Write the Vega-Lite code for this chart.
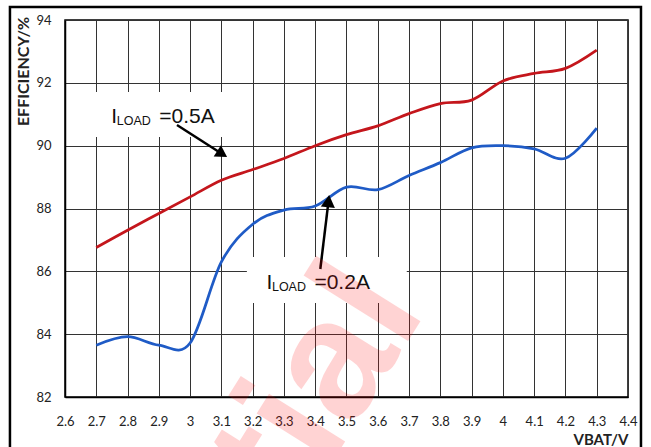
{
  "$schema": "https://vega.github.io/schema/vega-lite/v6.json",
  "width": 563,
  "height": 377,
  "autosize": {"type": "none"},
  "padding": {"left": 65, "top": 20, "right": 23, "bottom": 50},
  "background": "white",
  "config": {
    "view": {"stroke": "#000", "strokeWidth": 1.5},
    "font": "Lato",
    "axisX": {"tickCount": 18, "labelOverlap": false},
    "axisY": {"tickCount": 6, "labelOverlap": false}
  },
  "datasets": {
    "curves": [
      {"v": 2.7, "eff": 86.76, "s": "0.5A"},
      {"v": 2.8, "eff": 87.31, "s": "0.5A"},
      {"v": 2.9, "eff": 87.84, "s": "0.5A"},
      {"v": 3.0, "eff": 88.37, "s": "0.5A"},
      {"v": 3.1, "eff": 88.9, "s": "0.5A"},
      {"v": 3.2, "eff": 89.24, "s": "0.5A"},
      {"v": 3.3, "eff": 89.59, "s": "0.5A"},
      {"v": 3.4, "eff": 90.0, "s": "0.5A"},
      {"v": 3.5, "eff": 90.35, "s": "0.5A"},
      {"v": 3.6, "eff": 90.63, "s": "0.5A"},
      {"v": 3.7, "eff": 91.02, "s": "0.5A"},
      {"v": 3.8, "eff": 91.34, "s": "0.5A"},
      {"v": 3.9, "eff": 91.45, "s": "0.5A"},
      {"v": 4.0, "eff": 92.06, "s": "0.5A"},
      {"v": 4.1, "eff": 92.3, "s": "0.5A"},
      {"v": 4.2, "eff": 92.46, "s": "0.5A"},
      {"v": 4.3, "eff": 93.04, "s": "0.5A"},
      {"v": 2.7, "eff": 83.65, "s": "0.2A"},
      {"v": 2.8, "eff": 83.92, "s": "0.2A"},
      {"v": 2.9, "eff": 83.65, "s": "0.2A"},
      {"v": 3.0, "eff": 83.72, "s": "0.2A"},
      {"v": 3.1, "eff": 86.3, "s": "0.2A"},
      {"v": 3.2, "eff": 87.5, "s": "0.2A"},
      {"v": 3.3, "eff": 87.95, "s": "0.2A"},
      {"v": 3.4, "eff": 88.08, "s": "0.2A"},
      {"v": 3.5, "eff": 88.68, "s": "0.2A"},
      {"v": 3.6, "eff": 88.6, "s": "0.2A"},
      {"v": 3.7, "eff": 89.05, "s": "0.2A"},
      {"v": 3.8, "eff": 89.46, "s": "0.2A"},
      {"v": 3.9, "eff": 89.93, "s": "0.2A"},
      {"v": 4.0, "eff": 90.0, "s": "0.2A"},
      {"v": 4.1, "eff": 89.9, "s": "0.2A"},
      {"v": 4.2, "eff": 89.6, "s": "0.2A"},
      {"v": 4.3, "eff": 90.56, "s": "0.2A"}
    ],
    "labels": [
      {"id": "0.5A", "x": 2.748, "y": 90.709, "val": "=0.5A", "bx": 2.6735, "bx2": 3.175, "by": 91.71, "by2": 90.276},
      {"id": "0.2A", "x": 3.244, "y": 85.43, "val": "=0.2A", "bx": 3.1815, "bx2": 3.6927, "by": 86.457, "by2": 84.993}
    ],
    "arrows": [
      {"id": "0.5A", "x": 2.958, "y": 90.658, "x2": 3.1026, "y2": 89.735},
      {"id": "0.2A", "x": 3.4163, "y": 86.075, "x2": 3.4425, "y2": 88.236}
    ],
    "frame": [
      {"x": 2.424, "x2": 4.4415, "y": 94.414, "y2": 80}
    ],
    "watermark": [
      {"x": 3.7565, "y": 84.74, "word": "Confidential"}
    ]
  },
  "layer": [
    {
      "data": {"name": "curves"},
      "mark": {"type": "line", "interpolate": "cardinal", "strokeWidth": 2.75},
      "encoding": {
        "x": {
          "field": "v", "type": "quantitative",
          "scale": {"domain": [2.6, 4.4], "nice": false, "zero": false},
          "axis": {
            "format": ".1~f",
            "grid": true, "gridColor": "#333", "gridWidth": 1,
            "ticks": false, "tickSize": 0,
            "domainColor": "#000", "domainWidth": 1.5,
            "labelFont": "Lato", "labelFontSize": 13, "labelColor": "#222",
            "labelBaseline": "middle", "labelPadding": 24,
            "labelFlush": false, "labelOverlap": false,
            "title": "VBAT/V", "titleX": 563, "titleY": 42,
            "titleAlign": "right", "titleBaseline": "middle",
            "titleFont": "Lato", "titleFontSize": 15, "titleFontWeight": "bold", "titleColor": "#222"
          }
        },
        "y": {
          "field": "eff", "type": "quantitative",
          "scale": {"domain": [82, 94], "nice": false, "zero": false},
          "axis": {
            "grid": true, "gridColor": "#333", "gridWidth": 1,
            "ticks": false, "tickSize": 0,
            "domainColor": "#000", "domainWidth": 1.5,
            "labelFont": "Lato", "labelFontSize": 13, "labelColor": "#222",
            "labelPadding": 14, "labelOverlap": false,
            "title": "EFFICIENCY/%", "titleX": -42, "titleY": 51,
            "titleAngle": -90, "titleAlign": "center", "titleBaseline": "middle",
            "titleFont": "Lato", "titleFontSize": 16, "titleFontWeight": "bold", "titleColor": "#222"
          }
        },
        "color": {
          "field": "s", "type": "nominal",
          "scale": {"domain": ["0.5A", "0.2A"], "range": ["#C4161C", "#1F5BC6"]},
          "legend": null
        }
      }
    },
    {
      "data": {"name": "labels"},
      "mark": {"type": "rect", "fill": "white", "strokeWidth": 0},
      "encoding": {
        "x": {"field": "bx", "type": "quantitative"},
        "x2": {"field": "bx2"},
        "y": {"field": "by", "type": "quantitative"},
        "y2": {"field": "by2"}
      }
    },
    {
      "data": {"name": "arrows"},
      "mark": {"type": "rule", "color": "#000", "strokeWidth": 2.5},
      "encoding": {
        "x": {"field": "x", "type": "quantitative"},
        "x2": {"field": "x2"},
        "y": {"field": "y", "type": "quantitative"},
        "y2": {"field": "y2"}
      }
    },
    {
      "data": {"name": "arrows"},
      "transform": [{"filter": "datum.id === '0.5A'"}],
      "mark": {"type": "point", "shape": "triangle-up", "filled": true, "color": "#000", "opacity": 1, "size": 180, "angle": 122.6},
      "encoding": {
        "x": {"field": "x2", "type": "quantitative"},
        "y": {"field": "y2", "type": "quantitative"}
      }
    },
    {
      "data": {"name": "arrows"},
      "transform": [{"filter": "datum.id === '0.2A'"}],
      "mark": {"type": "point", "shape": "triangle-up", "filled": true, "color": "#000", "opacity": 1, "size": 200, "angle": 6},
      "encoding": {
        "x": {"field": "x2", "type": "quantitative"},
        "y": {"field": "y2", "type": "quantitative"}
      }
    },
    {
      "data": {"name": "labels"},
      "mark": {"type": "text", "text": "I", "font": "Liberation Sans", "fontSize": 21, "align": "left", "baseline": "alphabetic", "color": "#111"},
      "encoding": {
        "x": {"field": "x", "type": "quantitative"},
        "y": {"field": "y", "type": "quantitative"}
      }
    },
    {
      "data": {"name": "labels"},
      "mark": {"type": "text", "text": "LOAD", "font": "Liberation Sans", "fontSize": 12.5, "align": "left", "baseline": "alphabetic", "dx": 5.5, "dy": 2, "color": "#111"},
      "encoding": {
        "x": {"field": "x", "type": "quantitative"},
        "y": {"field": "y", "type": "quantitative"}
      }
    },
    {
      "data": {"name": "labels"},
      "mark": {"type": "text", "font": "Liberation Sans", "fontSize": 21, "align": "left", "baseline": "alphabetic", "dx": 48, "color": "#111"},
      "encoding": {
        "x": {"field": "x", "type": "quantitative"},
        "y": {"field": "y", "type": "quantitative"},
        "text": {"field": "val"}
      }
    },
    {
      "data": {"name": "watermark"},
      "mark": {"type": "text", "font": "Liberation Sans", "fontSize": 170, "fontWeight": "bold", "align": "right", "baseline": "alphabetic", "angle": -58, "color": "#FF0000", "opacity": 0.17},
      "encoding": {
        "x": {"field": "x", "type": "quantitative"},
        "y": {"field": "y", "type": "quantitative"},
        "text": {"field": "word"}
      }
    },
    {
      "data": {"name": "frame"},
      "mark": {"type": "rect", "filled": false, "stroke": "#000", "strokeWidth": 2.5},
      "encoding": {
        "x": {"field": "x", "type": "quantitative"},
        "x2": {"field": "x2"},
        "y": {"field": "y", "type": "quantitative"},
        "y2": {"field": "y2"}
      }
    }
  ]
}
